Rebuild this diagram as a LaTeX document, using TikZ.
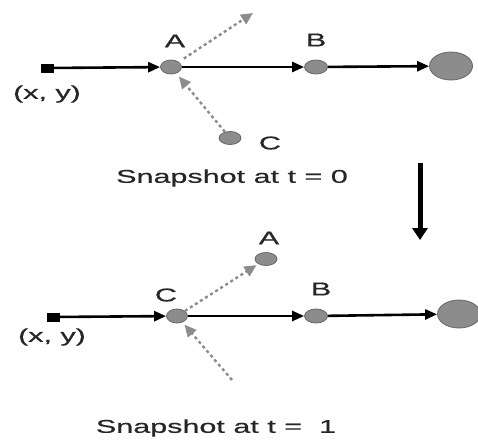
\documentclass[tikz,border=0pt]{standalone}
\usepackage{fontspec}
\newfontfamily\lblfont{Liberation Sans}[FakeStretch=1.65, FakeBold=0.6]
\usetikzlibrary{arrows.meta,shapes.geometric}

\begin{document}
\begin{tikzpicture}[x=1pt, y=-1pt,
    lbl/.style={font=\lblfont\fontsize{18.5}{20}\selectfont, text=black!85, inner sep=0pt},
    vtx/.style={ellipse, draw=black!60, fill=black!45, line width=0.8pt, inner sep=0pt,
                minimum width=21pt, minimum height=14pt},
    dest/.style={vtx, minimum width=43pt, minimum height=28pt},
    src/.style={rectangle, fill=black, inner sep=0pt, minimum width=13pt, minimum height=9pt},
    edge/.style={line width=2.6pt, -{Triangle[length=12pt,width=10pt]}},
    hop/.style={line width=2.4pt, black!45, dash pattern=on 3pt off 3pt,
                -{Triangle[length=12pt,width=11pt]}}]
    \useasboundingbox (0,0) rectangle (478,442);

    % Snapshot at t = 0: source, A, B, destination and a stray C
    \node[src] (s0) at (47,68) {};
    \node[vtx] (a0) at (171,67) {};
    \node[vtx, minimum width=23pt] (b0) at (316,67) {};
    \node[dest] (d0) at (451,66) {};
    \node[vtx, minimum width=22pt, minimum height=13pt] (c0) at (230,138) {};
    \coordinate (out0) at (253,13);

    \draw[edge] (s0) -- (a0);
    \draw[edge] (a0) -- (b0);
    \draw[edge] (b0) -- (d0);
    \draw[hop, shorten <=6pt] (a0) -- (out0);
    \draw[hop, shorten >=4pt] (c0) -- (a0);

    \node[lbl] (la0) at (175,41) {A};
    \node[lbl] (lb0) at (316,40) {B};
    \node[lbl] (lc0) at (270,143) {C};
    \node[lbl] (xy0) at (47,94) {(x, y)};
    \node[lbl] (cap0) at (232,178) {Snapshot at t = 0};

    % time step
    \coordinate (t0) at (420,163);
    \coordinate (t1) at (420,240);
    \draw[line width=5pt, -{Triangle[length=12pt,width=15pt]}] (t0) -- (t1);

    % Snapshot at t = 1: C has taken the place of A
    \node[src] (s1) at (53,317) {};
    \node[vtx] (c1) at (177,316) {};
    \node[vtx, minimum width=23pt] (b1) at (316,316) {};
    \node[dest] (d1) at (459,314) {};
    \node[vtx, minimum width=22pt, minimum height=13pt] (a1) at (266,259) {};
    \coordinate (in1) at (232,380);

    \draw[edge] (s1) -- (c1);
    \draw[edge] (c1) -- (b1);
    \draw[edge] (b1) -- (d1);
    \draw[hop, shorten >=2pt] (c1) -- (a1);
    \draw[hop, shorten >=3pt] (in1) -- (c1);

    \node[lbl] (la1) at (269,238) {A};
    \node[lbl] (lb1) at (321,289) {B};
    \node[lbl] (lc1) at (166,295) {C};
    \node[lbl] (xy1) at (52,337) {(x, y)};
    \node[lbl] (cap1) at (216,428) {Snapshot at t =\ \ 1};
\end{tikzpicture}
\end{document}
